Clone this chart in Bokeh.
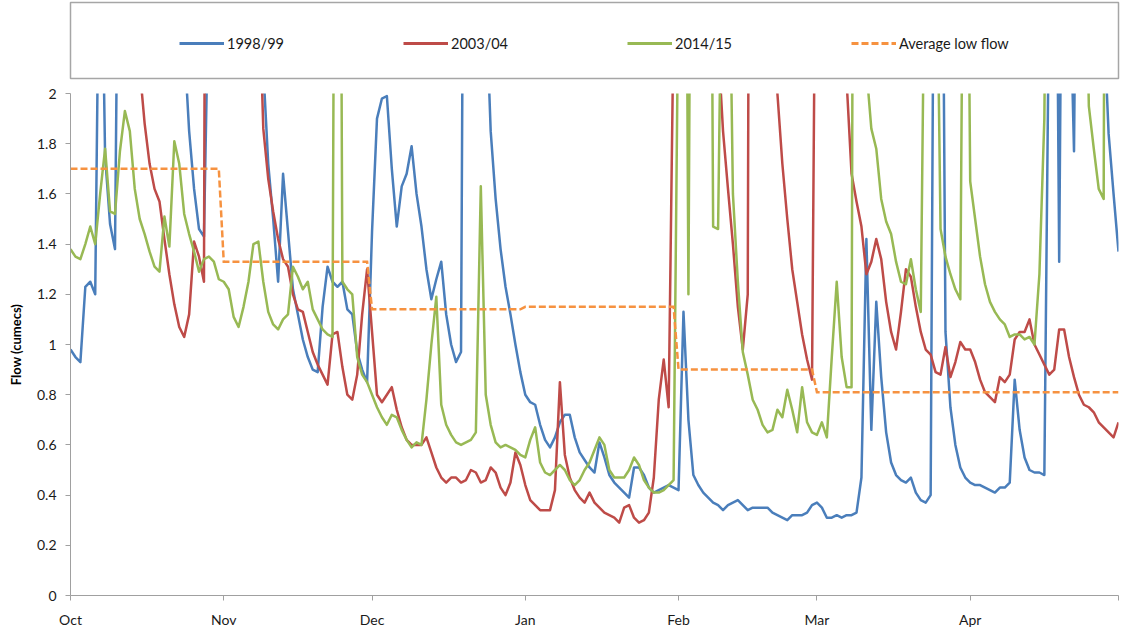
from bokeh.plotting import figure
from bokeh.models import Range1d, FixedTicker, NumeralTickFormatter, Legend, LegendItem
from bokeh.layouts import column
from bokeh.embed import file_html
from bokeh.resources import INLINE

# ---------------- data ----------------
months = ["Oct", "Nov", "Dec", "Jan", "Feb", "Mar", "Apr"]
month_days = [31, 30, 31, 31, 28, 31, 30]
avg_low_monthly = [1.70, 1.33, 1.14, 1.15, 0.90, 0.81, 0.81]

# daily flow (cumecs), 1 Oct .. 1 May (values above 2 run off the chart)
flow_1998 = [
    0.98, 0.95, 0.93, 1.23, 1.25, 1.20, 3.0, 1.75, 1.48, 1.38,
    3.5, 3.5, 3.5, 3.5, 3.5, 3.5, 3.5, 3.5, 3.5, 3.5,
    3.5, 3.5, 3.5, 2.2, 1.85, 1.62, 1.46, 1.43, 2.5, 3.5,
    3.5, 3.5, 3.5, 3.5, 3.5, 3.5, 3.5, 3.5, 3.0, 2.1,
    1.72, 1.5, 1.25, 1.68, 1.45, 1.22, 1.12, 1.02, 0.95, 0.9,
    0.89, 1.15, 1.31, 1.25, 1.23, 1.25, 1.14, 1.12, 0.97, 0.9,
    0.85, 1.45, 1.9, 1.98, 1.99, 1.7, 1.47, 1.63, 1.68, 1.79,
    1.6, 1.47, 1.3, 1.18, 1.26, 1.33, 1.12, 1.0, 0.93, 0.97,
    5.0, 5.0, 4.5, 3.5, 2.4, 1.85, 1.58, 1.38, 1.23, 1.12,
    1.0, 0.89, 0.8, 0.77, 0.76, 0.68, 0.62, 0.59, 0.63, 0.69,
    0.72, 0.72, 0.63, 0.57, 0.54, 0.51, 0.49, 0.61, 0.55, 0.48,
    0.45, 0.43, 0.41, 0.39, 0.51, 0.51, 0.48, 0.43, 0.41, 0.42,
    0.43, 0.44, 0.43, 0.42, 1.13, 0.7, 0.48, 0.44, 0.41, 0.39,
    0.37, 0.36, 0.34, 0.36, 0.37, 0.38, 0.36, 0.34, 0.35, 0.35,
    0.35, 0.35, 0.33, 0.32, 0.31, 0.30, 0.32, 0.32, 0.32, 0.33,
    0.36, 0.37, 0.35, 0.31, 0.31, 0.32, 0.31, 0.32, 0.32, 0.33,
    0.47, 1.42, 0.66, 1.17, 0.87, 0.65, 0.53, 0.48, 0.46, 0.45,
    0.47, 0.41, 0.38, 0.37, 0.40, 4.0, 4.0, 1.05, 0.75, 0.6,
    0.51, 0.47, 0.45, 0.44, 0.44, 0.43, 0.42, 0.41, 0.43, 0.43,
    0.45, 0.86, 0.66, 0.55, 0.5, 0.49, 0.49, 0.48, 2.5, 4.0,
    1.33, 4.0, 2.6, 1.77, 4.0, 4.0, 4.0, 4.0, 4.0, 2.3,
    1.84, 1.6, 1.37,
]

flow_2003 = [
    3.5, 3.5, 3.5, 3.5, 3.5, 3.5, 3.5, 3.5, 3.5, 3.5,
    3.5, 3.5, 3.5, 3.0, 2.1, 1.88, 1.72, 1.62, 1.57, 1.42,
    1.28, 1.16, 1.07, 1.03, 1.12, 1.41, 1.35, 1.25, 8.0, 6.0,
    6.0, 6.0, 6.0, 6.0, 6.0, 5.0, 4.5, 4.0, 2.5, 1.86,
    1.66, 1.53, 1.42, 1.34, 1.31, 1.2, 1.14, 1.13, 1.05, 0.97,
    0.92, 0.88, 0.84, 1.04, 1.05, 0.91, 0.8, 0.78, 0.88, 1.12,
    1.3, 1.05, 0.8, 0.77, 0.8, 0.83, 0.74, 0.67, 0.62, 0.6,
    0.6, 0.6, 0.63, 0.57, 0.51, 0.47, 0.45, 0.47, 0.47, 0.45,
    0.46, 0.5, 0.49, 0.45, 0.46, 0.51, 0.49, 0.43, 0.4, 0.45,
    0.57, 0.52, 0.44, 0.38, 0.36, 0.34, 0.34, 0.34, 0.42, 0.85,
    0.56, 0.47, 0.42, 0.39, 0.37, 0.41, 0.37, 0.35, 0.33, 0.32,
    0.31, 0.29, 0.35, 0.36, 0.31, 0.29, 0.3, 0.33, 0.47, 0.78,
    0.94, 0.75, 2.3, 5.0, 6.0, 6.0, 6.0, 5.0, 4.0, 3.5,
    3.0, 2.2, 1.85, 1.62, 1.4, 1.15, 0.98, 1.2, 8.0, 8.0,
    8.0, 6.0, 4.0, 2.0, 1.72, 1.5, 1.3, 1.17, 1.04, 0.94,
    0.86, 3.5, 6.0, 6.0, 6.0, 5.0, 4.0, 2.05, 1.68, 1.57,
    1.47, 1.28, 1.33, 1.42, 1.34, 1.17, 1.05, 0.98, 1.13, 1.3,
    1.27, 1.15, 1.05, 0.98, 0.96, 0.89, 0.88, 0.99, 0.87, 0.93,
    1.01, 0.98, 0.98, 0.93, 0.86, 0.81, 0.79, 0.77, 0.87, 0.85,
    0.88, 1.02, 1.05, 1.05, 1.1, 1.0, 0.96, 0.92, 0.88, 0.9,
    1.06, 1.06, 0.95, 0.87, 0.8, 0.76, 0.75, 0.73, 0.69, 0.67,
    0.65, 0.63, 0.69,
]

flow_2014 = [
    1.38, 1.35, 1.34, 1.4, 1.47, 1.4, 1.6, 1.78, 1.53, 1.52,
    1.77, 1.93, 1.85, 1.62, 1.5, 1.44, 1.37, 1.31, 1.29, 1.51,
    1.39, 1.81, 1.72, 1.52, 1.44, 1.37, 1.29, 1.34, 1.35, 1.33,
    1.26, 1.25, 1.22, 1.11, 1.07, 1.15, 1.25, 1.4, 1.41, 1.25,
    1.13, 1.08, 1.06, 1.1, 1.12, 1.31, 1.27, 1.22, 1.25, 1.14,
    1.1, 1.06, 1.04, 1.03, 6.0, 1.25, 1.22, 1.2, 0.95, 0.88,
    0.85, 0.8, 0.75, 0.71, 0.68, 0.72, 0.71, 0.66, 0.62, 0.59,
    0.61, 0.6, 0.78, 1.0, 1.19, 0.76, 0.68, 0.64, 0.61, 0.6,
    0.61, 0.62, 0.65, 1.63, 0.8, 0.68, 0.61, 0.59, 0.6, 0.59,
    0.58, 0.56, 0.55, 0.62, 0.67, 0.53, 0.49, 0.48, 0.5, 0.52,
    0.5, 0.46, 0.44, 0.46, 0.5, 0.53, 0.58, 0.63, 0.6, 0.5,
    0.47, 0.47, 0.47, 0.5, 0.55, 0.52, 0.46, 0.43, 0.41, 0.41,
    0.42, 0.44, 0.46, 2.5, 5.0, 1.2, 5.0, 6.0, 6.0, 5.0,
    1.47, 1.46, 3.0, 3.0, 1.6, 1.25, 0.97, 0.88, 0.78, 0.74,
    0.68, 0.65, 0.66, 0.74, 0.71, 0.82, 0.74, 0.65, 0.83, 0.69,
    0.65, 0.64, 0.69, 0.63, 0.95, 1.25, 0.95, 0.83, 0.83, 8.0,
    5.0, 2.1, 1.86, 1.78, 1.58, 1.49, 1.44, 1.33, 1.25, 1.24,
    1.34, 1.22, 1.13, 3.0, 5.0, 3.0, 1.46, 1.35, 1.28, 1.22,
    1.18, 4.0, 1.65, 1.5, 1.35, 1.24, 1.17, 1.13, 1.1, 1.08,
    1.03, 1.04, 1.04, 1.02, 1.03, 1.0, 1.28, 1.9, 4.0, 5.0,
    5.0, 5.0, 5.0, 5.0, 4.0, 3.0, 1.95, 1.78, 1.62, 1.58,
    8.0, 8.0, 8.0,
]

# ---------------- derived ----------------
n_days = len(flow_1998)
days = list(range(n_days))
avg_low = []
for v, nd in zip(avg_low_monthly, month_days):
    avg_low += [v] * nd
avg_low += [avg_low_monthly[-1]] * (n_days - len(avg_low))

tick_days = [0]
for nd in month_days:
    tick_days.append(tick_days[-1] + nd)
tick_labels = months + [""]

C_BLUE = "#4A7EBB"
C_RED = "#BE4B48"
C_GREEN = "#98B954"
C_ORANGE = "#F69240"
FONT = "Lato"
TXT = "#1a1a1a"
AX = "#A0A0A0"

series = [
    ("1998/99", flow_1998, C_BLUE, None),
    ("2003/04", flow_2003, C_RED, None),
    ("2014/15", flow_2014, C_GREEN, None),
    ("Average low flow", avg_low, C_ORANGE, "7 3"),
]

# ---------------- legend panel (its data lies outside its own view) ----------------
leg = figure(width=1126, height=84, x_range=Range1d(0, 1), y_range=Range1d(-2, -1),
             toolbar_location=None, output_backend="svg", x_axis_type=None, y_axis_type=None,
             min_border_left=68, min_border_right=6, min_border_top=2, min_border_bottom=6)
leg.grid.visible = False
leg.outline_line_color = "#A6A6A6"
leg.outline_line_width = 1.5
items = []
for name, vals, col, dash in series:
    kw = dict(line_color=col, line_width=3)
    if dash:
        kw["line_dash"] = dash
    r = leg.line(days, vals, **kw)
    items.append(LegendItem(label=name, renderers=[r]))
legend = Legend(items=items, orientation="horizontal", location=(109, 25),
                border_line_color=None, background_fill_alpha=0, padding=0, margin=0,
                spacing=5, glyph_width=45, glyph_height=20, label_standoff=3, label_width=171,
                label_text_font=FONT, label_text_font_size="14.5px", label_text_color=TXT)
leg.add_layout(legend, "center")

# ---------------- main plot ----------------
p = figure(width=1126, height=546, x_range=Range1d(0, n_days - 1), y_range=Range1d(0, 2),
           toolbar_location=None, output_backend="svg",
           min_border_left=70, min_border_right=8, min_border_top=9, min_border_bottom=35)
p.grid.visible = False
p.outline_line_color = None
p.background_fill_color = "white"

for name, vals, col, dash in series:
    kw = dict(line_color=col, line_width=2.5, line_join="round")
    if dash:
        kw["line_dash"] = dash
        kw["line_join"] = "miter"
    p.line(days, vals, **kw)

p.xaxis.ticker = FixedTicker(ticks=tick_days)
p.xaxis.major_label_overrides = {d: lab for d, lab in zip(tick_days, tick_labels)}
p.yaxis.ticker = FixedTicker(ticks=[0, 0.2, 0.4, 0.6, 0.8, 1.0, 1.2, 1.4, 1.6, 1.8, 2.0])
p.yaxis.formatter = NumeralTickFormatter(format="0.[0]")
p.yaxis.axis_label = "Flow (cumecs)"
p.yaxis.axis_label_text_font = FONT
p.yaxis.axis_label_text_font_style = "bold"
p.yaxis.axis_label_text_font_size = "13px"
p.yaxis.axis_label_text_color = "#000000"
p.yaxis.axis_label_standoff = 10

for ax in (p.xaxis, p.yaxis):
    ax.axis_line_color = AX
    ax.major_tick_line_color = AX
    ax.minor_tick_line_color = None
    ax.major_tick_out = 5
    ax.major_tick_in = 0
    ax.major_label_text_font = FONT
    ax.major_label_text_font_size = "14px"
    ax.major_label_text_color = TXT
p.xaxis.major_label_standoff = 10
p.yaxis.major_label_standoff = 9

layout = column(leg, p)
open("out.html", "w").write(file_html(layout, INLINE))
